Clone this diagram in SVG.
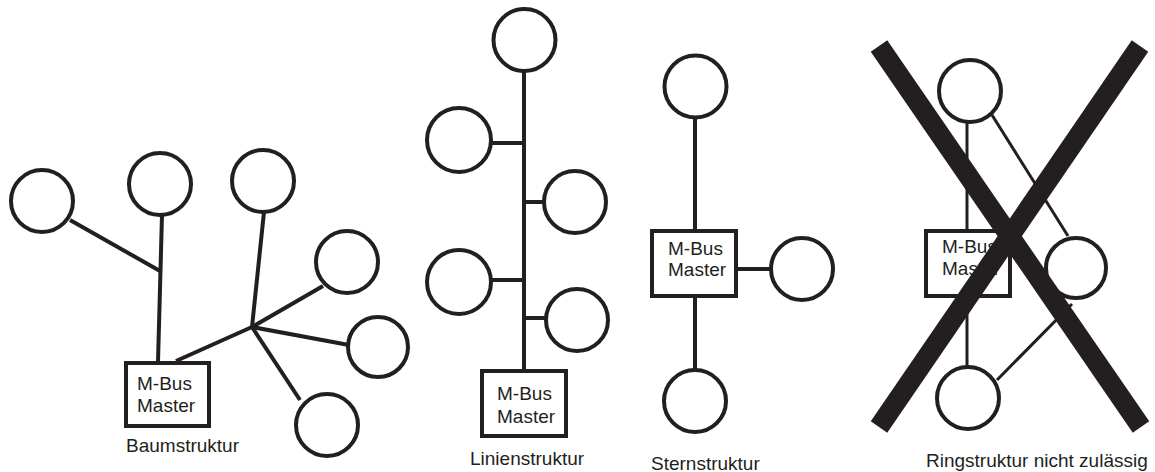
<svg xmlns="http://www.w3.org/2000/svg" width="1155" height="472" viewBox="0 0 1155 472">
<style>
.n{fill:#fff;stroke:#231f20;stroke-width:4}
.c line{stroke:#231f20;stroke-width:4;stroke-linecap:butt}
.c line.t{stroke-width:3}
.box{fill:#fff;stroke:#231f20;stroke-width:4}
text{font-family:"Liberation Sans",Arial,sans-serif;font-size:19px;fill:#231f20}
.x line{stroke:#231f20;stroke-width:20;stroke-linecap:butt}
</style>
<rect width="1155" height="472" fill="#fff"/>
<!-- connectors -->
<g id="connectors" class="c">
  <!-- Baum -->
  <line x1="70" y1="220" x2="160" y2="271"/>
  <line x1="162" y1="215" x2="158" y2="362"/>
  <line x1="176" y1="361" x2="252" y2="327"/>
  <line x1="252" y1="327" x2="264" y2="212"/>
  <line x1="252" y1="327" x2="323" y2="286"/>
  <line x1="252" y1="327" x2="349" y2="345"/>
  <line x1="252" y1="327" x2="300" y2="400"/>
  <!-- Linie -->
  <line x1="524" y1="72" x2="524" y2="371"/>
  <line x1="490" y1="143" x2="524" y2="143"/>
  <line x1="524" y1="202" x2="545" y2="202"/>
  <line x1="490" y1="280" x2="524" y2="280"/>
  <line x1="524" y1="318" x2="547" y2="318"/>
  <!-- Stern -->
  <line x1="695" y1="118" x2="695" y2="231"/>
  <line x1="736" y1="269" x2="771" y2="269"/>
  <line x1="695" y1="296" x2="695" y2="370"/>
  <!-- Ring -->
  <line class="t" x1="967" y1="121" x2="967" y2="231"/>
  <line class="t" x1="967" y1="296" x2="967" y2="368"/>
  <line class="t" x1="992" y1="115" x2="1068" y2="236"/>
  <line class="t" x1="997" y1="380" x2="1072" y2="304"/>
</g>
<!-- Baumstruktur -->
<g id="baum-n1"><circle class="n" cx="42" cy="201" r="31"/></g>
<g id="baum-n2"><circle class="n" cx="160" cy="184" r="31"/></g>
<g id="baum-n3"><circle class="n" cx="263" cy="181" r="31"/></g>
<g id="baum-n4"><circle class="n" cx="347" cy="262" r="31"/></g>
<g id="baum-n5"><circle class="n" cx="378" cy="347" r="30"/></g>
<g id="baum-n6"><circle class="n" cx="327" cy="425" r="31"/></g>
<g id="baum-master"><rect class="box" x="126" y="363" width="83" height="63"/><text x="137" y="390">M-Bus</text><text x="137" y="412">Master</text></g>
<text id="baum-label" x="126" y="452">Baumstruktur</text>
<!-- Linienstruktur -->
<g id="linie-n1"><circle class="n" cx="524.5" cy="40" r="31"/></g>
<g id="linie-n2"><circle class="n" cx="459" cy="140" r="32"/></g>
<g id="linie-n3"><circle class="n" cx="575" cy="202" r="31"/></g>
<g id="linie-n4"><circle class="n" cx="459" cy="282" r="32"/></g>
<g id="linie-n5"><circle class="n" cx="577" cy="320" r="31"/></g>
<g id="linie-master"><rect class="box" x="482" y="371" width="84" height="65"/><text x="497" y="400">M-Bus</text><text x="497" y="423">Master</text></g>
<text id="linie-label" x="470" y="465">Linienstruktur</text>
<!-- Sternstruktur -->
<g id="stern-n1"><circle class="n" cx="695.5" cy="86.5" r="31"/></g>
<g id="stern-n2"><circle class="n" cx="802" cy="269" r="31"/></g>
<g id="stern-n3"><circle class="n" cx="695" cy="401" r="31"/></g>
<g id="stern-master"><rect class="box" x="652" y="231" width="84" height="65"/><text x="668" y="255">M-Bus</text><text x="668" y="276">Master</text></g>
<text id="stern-label" x="651" y="470">Sternstruktur</text>
<!-- Ringstruktur -->
<g id="ring-n1"><circle class="n" cx="970" cy="91" r="31"/></g>
<g id="ring-n2"><circle class="n" cx="1076" cy="268" r="30"/></g>
<g id="ring-n3"><circle class="n" cx="968" cy="398" r="31"/></g>
<g id="ring-master"><rect class="box" x="926" y="231" width="84" height="65"/><text x="942" y="253">M-Bus</text><text x="942" y="275">Master</text></g>
<g id="ring-cross" class="x">
  <line x1="879" y1="46" x2="1141" y2="427"/>
  <line x1="1140" y1="46" x2="879" y2="427"/>
</g>
<text id="ring-label" x="926" y="467">Ringstruktur nicht zulässig</text>
</svg>
